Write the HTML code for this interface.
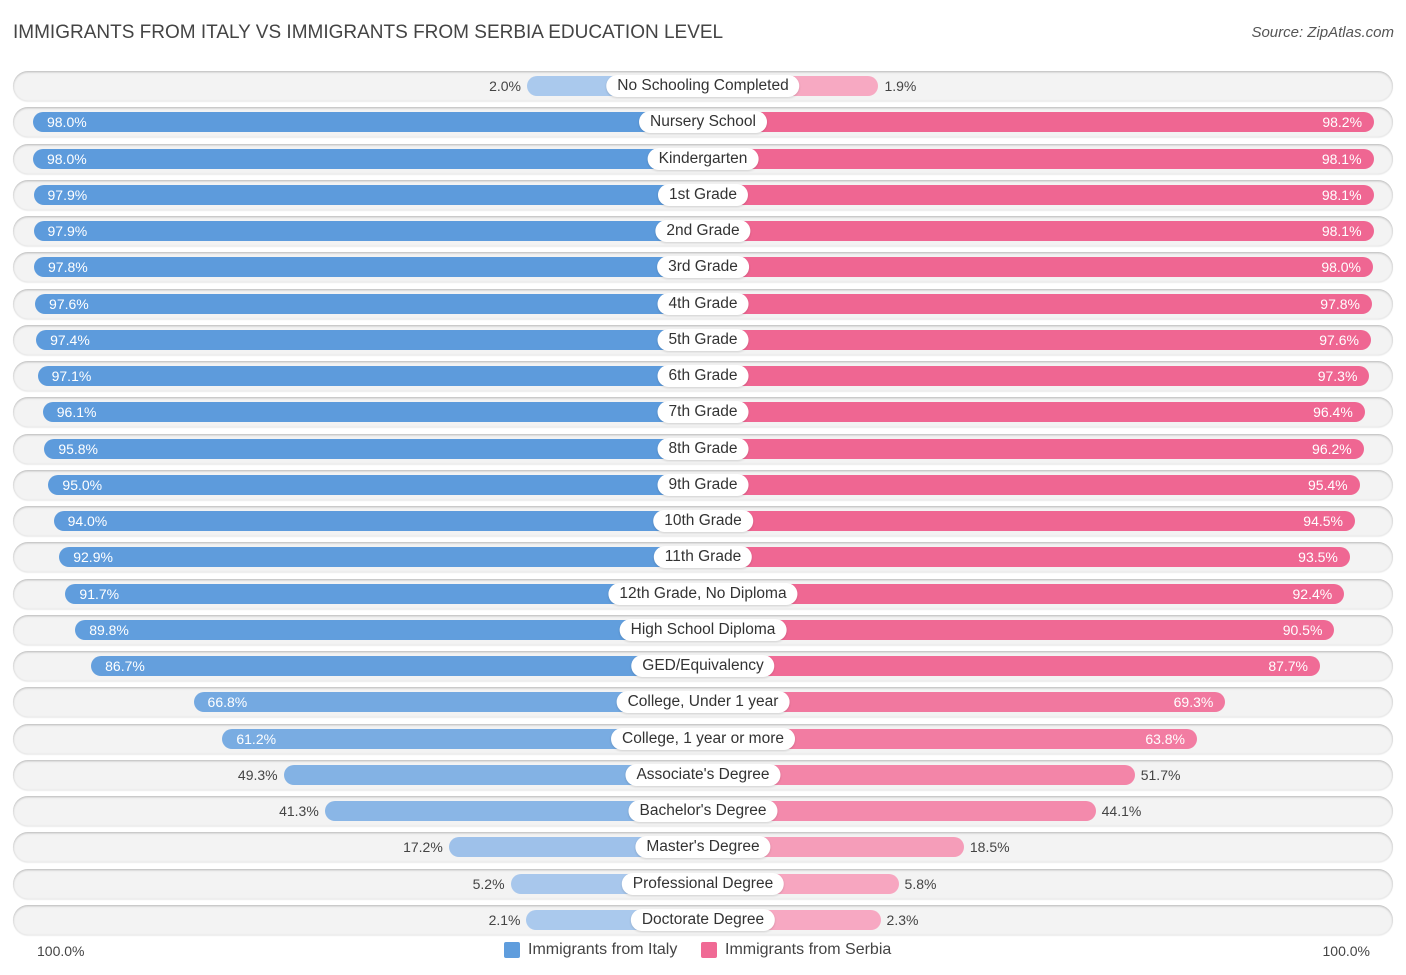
<!DOCTYPE html>
<html><head><meta charset="utf-8"><style>
body{margin:0;width:1406px;height:975px;background:#fff;font-family:"Liberation Sans",sans-serif;overflow:hidden;position:relative}
.t{position:absolute;left:13px;top:22px;font-size:19px;color:#444}
.s{position:absolute;right:12px;top:24px;font-size:15px;color:#555;font-style:italic}
.row{position:absolute;left:13px;width:1380px;height:30px;border-radius:15px;background:#f3f3f3;box-shadow:0 1px 2px rgba(0,0,0,.25) inset,0 1px 1px rgba(0,0,0,.08)}
.bar{position:absolute;height:20px;border-radius:10px}
.lab{position:absolute;height:22px;line-height:22px;padding:0 11px;background:#fff;border-radius:11px;font-size:15.5px;color:#333;transform:translateX(-50%);white-space:nowrap;box-shadow:0 1px 2px rgba(0,0,0,.15)}
.v{position:absolute;font-size:14px;line-height:20px;color:#444}
.vi{color:#fff}
.leg{position:absolute;top:941px;font-size:16px;color:#444;display:flex;align-items:center}
.sw{width:16px;height:16px;border-radius:2px;margin-right:8px}
</style></head><body>
<div class="t">IMMIGRANTS FROM ITALY VS IMMIGRANTS FROM SERBIA EDUCATION LEVEL</div>
<div class="s">Source: ZipAtlas.com</div>
<div id="chart"></div>
<div class="v" style="left:37px;top:941px;font-size:14px">100.0%</div>
<div class="v" style="right:36px;top:941px;font-size:14px">100.0%</div>
<div class="leg" style="left:504px"><div class="sw" style="background:#5f9ddd"></div>Immigrants from Italy</div>
<div class="leg" style="left:701px"><div class="sw" style="background:#f06a95"></div>Immigrants from Serbia</div>
<script>
const categories=["No Schooling Completed","Nursery School","Kindergarten","1st Grade","2nd Grade","3rd Grade","4th Grade","5th Grade","6th Grade","7th Grade","8th Grade","9th Grade","10th Grade","11th Grade","12th Grade, No Diploma","High School Diploma","GED/Equivalency","College, Under 1 year","College, 1 year or more","Associate's Degree","Bachelor's Degree","Master's Degree","Professional Degree","Doctorate Degree"];
const italy=[2.0,98.0,98.0,97.9,97.9,97.8,97.6,97.4,97.1,96.1,95.8,95.0,94.0,92.9,91.7,89.8,86.7,66.8,61.2,49.3,41.3,17.2,5.2,2.1];
const serbia=[1.9,98.2,98.1,98.1,98.1,98.0,97.8,97.6,97.3,96.4,96.2,95.4,94.5,93.5,92.4,90.5,87.7,69.3,63.8,51.7,44.1,18.5,5.8,2.3];
const cx=703,y0=86,dy=36.25;
function w(v){return 165.7+5.146*v;}
function mix(a,b,t){return 'rgb('+a.map((x,i)=>Math.round(x+(b[i]-x)*t)).join(',')+')';}
const bl=[172,202,237],bs=[93,155,220],pl=[247,170,195],ps=[239,102,146];
const c=document.getElementById('chart');
categories.forEach((name,i)=>{
  const y=y0+i*dy;
  const r=document.createElement('div');r.className='row';r.style.top=(y-15)+'px';
  
  
  c.appendChild(r);
  const a=italy[i],b=serbia[i];
  const L=document.createElement('div');L.className='bar';
  
  
  L.style.left=(cx-w(a))+'px';L.style.width=w(a)+'px';L.style.top=(y-10)+'px';L.style.background=mix(bl,bs,Math.min(1,a/95));
  c.appendChild(L);
  const R=document.createElement('div');R.className='bar';
  
  
  R.style.left=cx+'px';R.style.width=w(b)+'px';R.style.top=(y-10)+'px';R.style.background=mix(pl,ps,Math.min(1,b/95));
  c.appendChild(R);
  const lv=document.createElement('div');lv.className='v';lv.textContent=a.toFixed(1)+'%';lv.style.top=(y-10)+'px';
  
  
  if(a>55){lv.classList.add('vi');lv.style.left=(cx-w(a)+14)+'px';}else{lv.style.right=(1406-(cx-w(a))+6)+'px';}
  c.appendChild(lv);
  const rv=document.createElement('div');rv.className='v';rv.textContent=b.toFixed(1)+'%';rv.style.top=(y-10)+'px';
  
  
  if(b>55){rv.classList.add('vi');rv.style.right=(1406-(cx+w(b))+12)+'px';}else{rv.style.left=(cx+w(b)+6)+'px';}
  c.appendChild(rv);
  const lb=document.createElement('div');lb.className='lab';lb.textContent=name;lb.style.left=cx+'px';lb.style.top=(y-11)+'px';
  
  
  c.appendChild(lb);
});
</script>
</body></html>
